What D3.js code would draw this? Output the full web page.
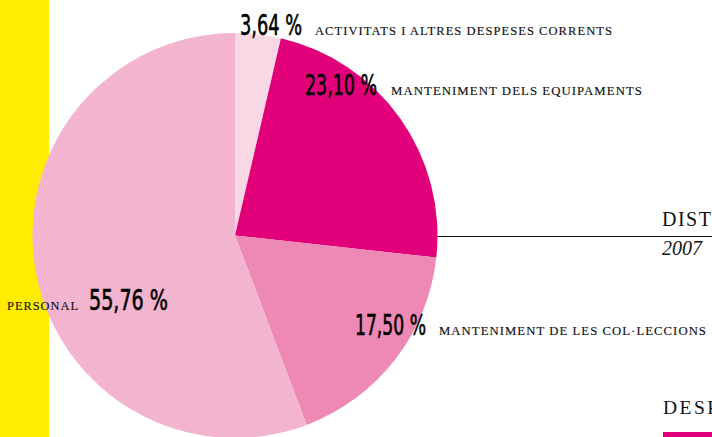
<!DOCTYPE html>
<html>
<head>
<meta charset="utf-8">
<script src="https://cdn.jsdelivr.net/npm/d3@7"></script>
<style>
  html, body { margin: 0; padding: 0; background: #fff; overflow: hidden; }
  svg { display: block; }
  .num { font-family: "Liberation Sans Narrow", "DejaVu Sans Condensed", sans-serif; font-size: 29px; fill: #000; stroke: #000; stroke-width: 0.6px; }
  .cat { font-family: "Liberation Serif", "DejaVu Serif", serif; font-size: 12px; fill: #111; stroke: #111; stroke-width: 0.15px; letter-spacing: 1px; }
  .side { font-family: "Liberation Serif", "DejaVu Serif", serif; fill: #111; }
</style>
</head>
<body>
<svg id="chart" width="712" height="437"></svg>
<script>
// --- Data ---
const categories = [
  'activitats i altres despeses corrents',
  'manteniment dels equipaments',
  'manteniment de les col·leccions',
  'personal'
];
const values = [3.64, 23.10, 17.50, 55.76];
const valueLabels = ['3,64 %', '23,10 %', '17,50 %', '55,76  %'];
const sliceColors = ['#f9d8e5', '#e2007a', '#ee88b5', '#f3b4d0'];

// --- Layout (label anchors, widths) ---
const labelLayout = [
  { nx: 240, nw: 62, lx: 315, lw: 298, y: 35 },
  { nx: 305, nw: 72, lx: 391, lw: 252, y: 95 },
  { nx: 355, nw: 71, lx: 439, lw: 268, y: 335 },
  { nx: 89, nw: 79, lx: 7, lw: 72, y: 310 }
];

const svg = d3.select('#chart');
const cx = 235, cy = 235.5, r = 202.5;

// yellow band on the left
svg.append('rect')
  .attr('x', 0).attr('y', 0)
  .attr('width', 49).attr('height', 437)
  .attr('fill', '#ffec00');

// title rule and side texts (the frame cuts them, as in the original)
svg.append('line')
  .attr('x1', cx + r).attr('x2', 712)
  .attr('y1', 236.5).attr('y2', 236.5)
  .attr('stroke', '#111').attr('stroke-width', 1);

svg.append('text').attr('class', 'side')
  .attr('x', 662).attr('y', 226)
  .attr('font-size', 20).attr('letter-spacing', 1.5)
  .text('DISTRIBUCIÓ');

svg.append('text').attr('class', 'side')
  .attr('x', 662).attr('y', 255)
  .attr('font-size', 20).attr('font-style', 'italic')
  .text('2007');

svg.append('text').attr('class', 'side')
  .attr('x', 663).attr('y', 414)
  .attr('font-size', 19.5).attr('letter-spacing', 2.5)
  .text('DESPESES');

svg.append('rect')
  .attr('x', 663).attr('y', 432)
  .attr('width', 60).attr('height', 5)
  .attr('fill', '#e2007a');

// --- Pie ---
const pie = d3.pie().sort(null).value(d => d);
const arc = d3.arc().innerRadius(0).outerRadius(r);
const color = d3.scaleOrdinal().domain(categories).range(sliceColors);

svg.append('g')
  .attr('transform', `translate(${cx},${cy})`)
  .selectAll('path')
  .data(pie(values))
  .enter().append('path')
  .attr('d', arc)
  .attr('fill', (d, i) => color(categories[i]));

// --- Labels ---
const labels = svg.append('g');
categories.forEach((c, i) => {
  const L = labelLayout[i];
  labels.append('text').attr('class', 'num')
    .attr('x', L.nx).attr('y', L.y)
    .attr('textLength', L.nw).attr('lengthAdjust', 'spacingAndGlyphs')
    .text(valueLabels[i]);
  labels.append('text').attr('class', 'cat')
    .attr('x', L.lx).attr('y', L.y)
    .attr('textLength', L.lw).attr('lengthAdjust', 'spacingAndGlyphs')
    .text(c.toUpperCase());
});
</script>
</body>
</html>
